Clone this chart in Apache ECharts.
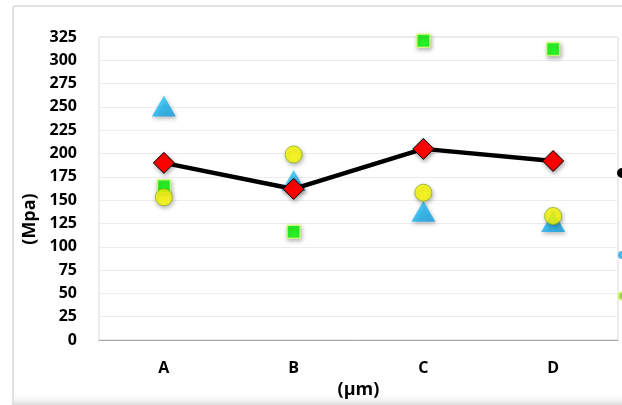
<!DOCTYPE html>
<html><head><meta charset="utf-8">
<script src="https://cdn.jsdelivr.net/npm/echarts@6/dist/echarts.min.js"></script>
<style>html,body{margin:0;padding:0;background:#fff}#c{width:622px;height:405px}</style>
</head><body><div id="c"></div>
<script>
const categories = ['A','B','C','D'];
const yTicks = [0,25,50,75,100,125,150,175,200,225,250,275,300,325];
const lineValues = [190,162,205,192];
const triangleValues = [251,171,138,127];
const squareValues = [165,116,321,312];
const circleValues = [153,199,158,133];
const seriesNames = ['Series 1','Series 2','Series 3','Series 4'];

const chart = echarts.init(document.getElementById('c'));
const font = '"Open Sans", "Liberation Sans", sans-serif';
const shadow = {shadowColor:'rgba(0,0,0,0.35)', shadowBlur:4, shadowOffsetX:1, shadowOffsetY:2};
chart.setOption({
  animation:false,
  graphic:[
    {type:'rect', shape:{x:13,y:6,width:640,height:420,r:3}, style:{fill:'#fff',stroke:'#d9d9d9',lineWidth:1.5}, z:-10},
    {type:'rect', shape:{x:14,y:393,width:620,height:12}, style:{fill:new echarts.graphic.LinearGradient(0,0,0,1,[{offset:0,color:'rgba(255,255,255,0)'},{offset:1,color:'rgba(220,220,220,1)'}])}, z:-9},
    {type:'text', x:30, y:219, rotation:Math.PI/2, style:{text:'(Mpa)', font:'bold 18px '+font, fill:'#000', textAlign:'center', textVerticalAlign:'middle'}}
  ],
  grid:{left:99, right:4, top:37, bottom:65, show:true, borderColor:'#d9d9d9', borderWidth:1},
  legend:{orient:'vertical', left:617, top:167, padding:0, itemGap:29, itemWidth:8, itemHeight:8, icon:'circle',
    data:[{name:seriesNames[0],itemStyle:{color:'#000'}},{name:seriesNames[3],itemStyle:{color:'#ffff00',opacity:0}},{name:seriesNames[1],itemStyle:{color:'#1aa7e8'}},{name:seriesNames[2],itemStyle:{color:'#8cc63f'}}],
    textStyle:{fontSize:12}},
  xAxis:{type:'category', data:categories, boundaryGap:true,
    name:'(μm)', nameLocation:'middle', nameGap:41, nameTextStyle:{fontWeight:'bold', fontSize:18, fontFamily:font, color:'#000'},
    axisLine:{lineStyle:{color:'#a6a6a6',width:1}}, axisTick:{show:false},
    axisLabel:{margin:20, fontWeight:'bold', fontSize:16, fontFamily:font, color:'#000'}},
  yAxis:{type:'value', min:0, max:325, interval:25,
    axisLine:{show:false}, axisTick:{show:false},
    splitLine:{lineStyle:{color:'#ececec',width:1}},
    axisLabel:{margin:22, fontWeight:'bold', fontSize:16, fontFamily:font, color:'#000',
      formatter:v=>yTicks.includes(v)?String(v):''}},
  series:[
    {name:seriesNames[2], type:'scatter', data:squareValues, symbol:'rect', symbolSize:13, z:3,
      itemStyle:Object.assign({color:'#00ff00', borderColor:'#d9ff7a', borderWidth:1.5}, shadow)},
    {name:seriesNames[1], type:'scatter', data:triangleValues, symbol:'triangle', symbolSize:[24,21], z:4,
      itemStyle:Object.assign({color:new echarts.graphic.LinearGradient(0,0,1,1,[{offset:0,color:'#3cd4fa'},{offset:0.5,color:'#17b4f0'},{offset:1,color:'#1298dc'}])}, shadow)},
    {name:seriesNames[0], type:'line', data:lineValues, symbol:'diamond', symbolSize:[21,21], z:5,
      lineStyle:{color:'#000', width:4.5}, itemStyle:Object.assign({color:'#ff0000', borderColor:'#000', borderWidth:1}, shadow)},
    {name:seriesNames[3], type:'scatter', data:circleValues, symbol:'circle', symbolSize:17, z:6,
      itemStyle:Object.assign({color:'#ffff00', borderColor:'#8fb021', borderWidth:1}, shadow)}
  ]
});
</script></body></html>
